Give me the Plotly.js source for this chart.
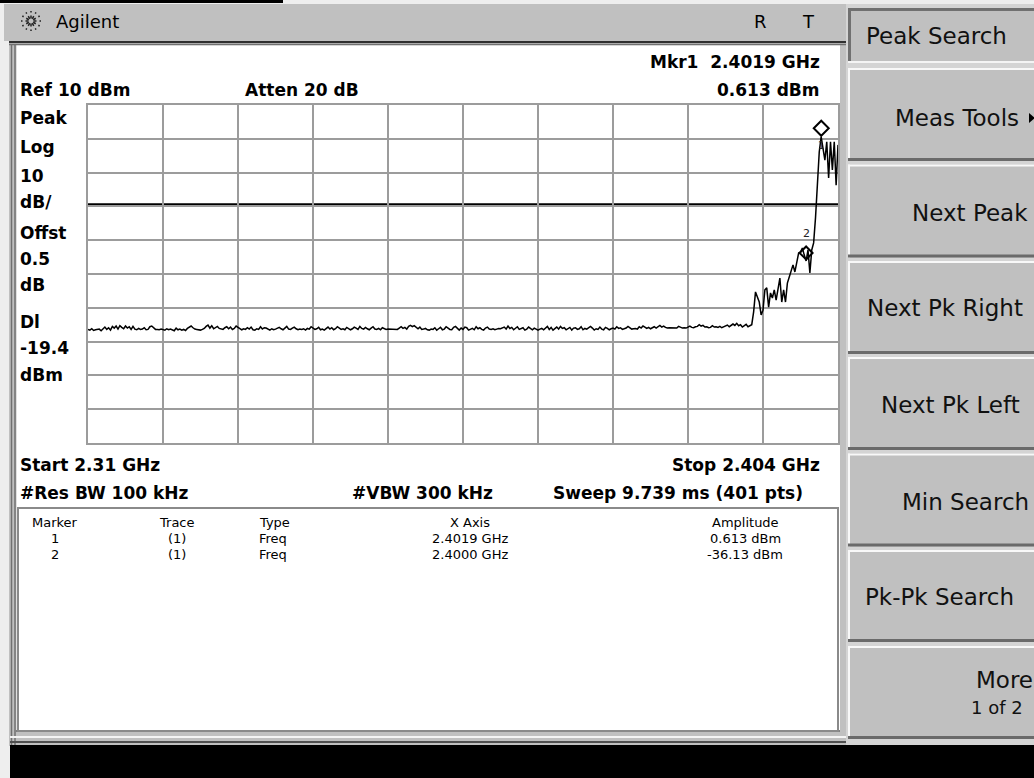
<!DOCTYPE html>
<html><head><meta charset="utf-8">
<script src="https://cdn.plot.ly/plotly-3.0.1.min.js"></script>
<style>html,body{margin:0;padding:0;background:#eeeeee;overflow:hidden}#chart{width:1034px;height:778px}</style>
</head><body><div id="chart"></div>
<script>
// ---- sweep settings ----
const startGHz = 2.31;
const stopGHz = 2.404;
const sweepPoints = 401;
const refLevel = 10;
const dbPerDiv = 10;
const displayLine = -19.4;

// ---- trace amplitudes (dBm) ----
const noiseFloor = [
-56.4,-56.6,-56.2,-56.7,-56.5,-56.5,-56.3,-56.8,-56.1,-55.7,-56.4,-55.9,-56.6,-55.5,-56.0,-55.4,-56.3,-55.3,-55.8,-56.2,
-55.4,-56.0,-55.6,-56.4,-55.5,-56.3,-56.5,-56.1,-56.4,-56.3,-55.9,-56.5,-56.4,-55.6,-55.4,-56.0,-56.4,-56.4,-56.5,-56.3,
-56.4,-56.6,-56.2,-56.5,-56.3,-56.6,-56.8,-56.0,-56.5,-56.3,-56.6,-56.4,-56.7,-56.1,-55.8,-55.4,-55.9,-56.3,-56.4,-56.5,
-56.6,-56.4,-56.1,-55.5,-55.1,-56.0,-55.3,-56.2,-55.8,-55.5,-56.1,-56.3,-56.4,-55.9,-55.6,-56.2,-55.7,-56.4,-56.1,-55.4,
-55.8,-56.3,-56.5,-56.2,-56.4,-55.9,-56.3,-55.7,-56.5,-56.6,-56.2,-56.4,-55.6,-56.3,-55.9,-56.0,-56.4,-56.6,-56.2,-56.5,
-56.3,-56.1,-55.8,-56.2,-56.5,-56.0,-55.5,-56.3,-56.4,-56.0,-55.7,-56.2,-56.5,-56.3,-56.4,-56.2,-56.6,-56.1,-56.3,-55.6,
-56.0,-56.4,-56.2,-55.8,-56.5,-56.3,-56.6,-56.1,-55.7,-56.3,-55.9,-56.5,-56.2,-55.6,-56.0,-56.4,-56.2,-56.5,-55.8,-56.3,
-56.5,-56.2,-55.7,-56.0,-56.4,-55.5,-56.1,-56.3,-55.8,-56.2,-56.5,-56.0,-55.6,-56.3,-56.4,-56.1,-56.5,-55.9,-56.2,-56.4,
-56.3,-56.3,-56.4,-56.3,-56.2,-56.4,-56.0,-55.6,-56.1,-55.8,-56.3,-55.5,-55.2,-55.6,-55.3,-55.9,-56.2,-55.7,-56.4,-56.3,
-56.1,-56.5,-56.6,-56.3,-56.4,-55.9,-56.6,-56.2,-55.8,-56.5,-56.3,-55.6,-56.0,-56.4,-56.5,-55.8,-55.5,-56.2,-56.6,-56.0,
-56.4,-55.7,-55.9,-56.6,-56.3,-56.1,-56.5,-55.6,-56.2,-55.9,-56.4,-56.6,-56.0,-55.7,-56.3,-56.4,-56.2,-56.5,-56.3,-56.1,
-56.2,-55.9,-55.7,-56.3,-55.4,-56.1,-55.8,-56.5,-56.0,-55.6,-56.4,-56.2,-55.9,-56.6,-56.3,-55.7,-56.1,-56.5,-56.0,-56.4,
-56.6,-56.3,-56.1,-56.5,-56.0,-55.5,-56.4,-55.8,-56.6,-56.2,-55.7,-56.3,-55.5,-56.1,-55.9,-56.5,-56.2,-55.8,-56.6,-56.0,
-55.9,-56.4,-56.2,-55.6,-56.5,-56.1,-56.3,-55.8,-55.5,-56.0,-56.6,-56.2,-56.4,-55.7,-56.3,-56.5,-55.8,-56.1,-56.5,-56.2,
-56.0,-56.3,-55.6,-56.1,-55.9,-56.4,-56.2,-56.0,-55.5,-55.8,-56.3,-56.2,-56.1,-56.3,-55.6,-56.0,-55.4,-55.7,-56.1,-55.8,
-56.2,-55.9,-55.6,-56.0,-55.5,-55.2,-55.7,-55.4,-55.8,-56.0,-55.9,-55.9,-56.0,-55.9,-56.0,-55.5,-55.8,-56.0,-55.9,-56.0,
-55.7,-55.4,-55.8,-55.9,-55.6,-55.5,-55.0,-55.4,-55.2,-55.7,-55.6,-55.9,-55.8,-55.3,-55.7,-55.6,-55.8,-55.5,-55.9,-55.6,
-55.4,-55.1,-55.6,-55.3,-54.8,-55.2,-54.6,-55.3,-55.0,-55.7,-55.4,-54.9,-55.6,-55.2,-55.0
];
const riseSegment = [
-51.2,-45.3,-46.8,-48.3,-52.1,-50.7,-44.7,-44.1,-49.8,-45.6,
-47.1,-44.7,-47.7,-43.8,-41.2,-48.3,-44.7,-48.3,-42.7,-40.9,
-38.8,-37.3,-39.4,-36.4,-33.8,-33.5,-32.3,-34.4,-36.13,-32.9,
-39.7,-32.9,-30.8,-23.4,-11.3,-3.9,0.613,-3.3,-6.3,-0.9,
-11.6,-0.9,-9.2,-0.9,-13.7,-1.8
];

// ---- markers ----
const markerIds = ['1', '2'];
const markerTraces = ['(1)', '(1)'];
const markerTypes = ['Freq', 'Freq'];
const markerFreqs = [2.4019, 2.4000];
const markerAmps = [0.613, -36.13];
const markerFreqText = ['2.4019 GHz', '2.4000 GHz'];
const markerAmpText = ['0.613 dBm', '-36.13 dBm'];

// ---- screen texts ----
const leftLabels = ['Peak', 'Log', '10', 'dB/', 'Offst', '0.5', 'dB', 'Dl', '-19.4', 'dBm'];
const tableHeaders = ['Marker', 'Trace', 'Type', 'X Axis', 'Amplitude'];
const softkeys = ['Peak Search', 'Meas Tools', 'Next Peak', 'Next Pk Right', 'Next Pk Left', 'Min Search', 'Pk-Pk Search', 'More'];

// ---- build trace ----
const step = (stopGHz - startGHz) / (sweepPoints - 1);
const xs = [], ys = [];
noiseFloor.forEach((v, i) => { xs.push(startGHz + i * step); ys.push(v); });
riseSegment.forEach((v, j) => { xs.push(stopGHz - (riseSegment.length - 1 - j) * step); ys.push(v); });

// ---- pixel helpers for screen furniture ----
const L = 88, R = 838, T = 105, B = 443;
const PX = p => (p - L) / (R - L);
const PY = p => (B - p) / (B - T);
const shapes = [];
const ann = [];
function rect(x0, y0, x1, y1, fill, lc, lw, layer) {
  shapes.push({type: 'rect', xref: 'paper', yref: 'paper', x0: PX(x0), x1: PX(x1), y0: PY(y0), y1: PY(y1),
    fillcolor: fill, line: {color: lc || 'rgba(0,0,0,0)', width: lw || 0}, layer: layer || 'below'});
}
function hline(x0, x1, y, c, w, layer) {
  shapes.push({type: 'line', xref: 'paper', yref: 'paper', x0: PX(x0), x1: PX(x1), y0: PY(y), y1: PY(y), line: {color: c, width: w}, layer: layer || 'below'});
}
function vline(x, y0, y1, c, w, layer) {
  shapes.push({type: 'line', xref: 'paper', yref: 'paper', x0: PX(x), x1: PX(x), y0: PY(y0), y1: PY(y1), line: {color: c, width: w}, layer: layer || 'below'});
}
const BOLD = {family: 'DejaVu Sans', size: 17, color: '#000', weight: 'bold'};
const KEY = {family: 'DejaVu Sans', size: 23, color: '#111'};
const TBL = {family: 'DejaVu Sans', size: 13, color: '#000'};
function txt(t, x, y, xa, font) {
  ann.push({text: t, xref: 'paper', yref: 'paper', x: PX(x), y: PY(y), xanchor: xa, yanchor: 'middle', showarrow: false, font: font});
}

// backgrounds / frame
rect(0, 0, 283, 3, '#000');
rect(4, 4, 846, 41, '#c0c0c0');
rect(9, 41, 848, 746, '#c0c0c0');
hline(9, 846, 42, '#303030', 2);
hline(9, 846, 44.5, '#707070', 1.5);
vline(11.5, 44, 745, '#707070', 1.5);
vline(15, 44, 745, '#707070', 1.5);
rect(16.5, 45.5, 840, 730, '#ffffff');
hline(16, 840, 731, '#808080', 2);
hline(10, 846, 737, '#f4f4f4', 2);
hline(10, 846, 742, '#505050', 2);
rect(846, 4, 1034, 745, '#d4d4d4');
rect(10, 745, 1034, 778, '#000000');
// marker table box
rect(18, 508, 838, 731, 'rgba(0,0,0,0)', '#8a8a8a', 2);

// softkeys
const keyTops = [8, 68, 164.5, 261, 357, 453.5, 550, 646];
const keyBots = [63, 161, 257.5, 354, 450, 546.5, 642, 739];
const keyTextY = [36, 118, 213, 308, 405, 502, 597, 680];
const keyTextX = [936, 957, 970, 945, 950, 965, 940, 1005];
for (let k = 0; k < softkeys.length; k++) {
  const y0 = keyTops[k], y1 = keyBots[k];
  rect(848, y0, 1036, y1, '#c0c0c0');
  if (k === 0) {
    hline(848, 1036, y0 + 1.5, '#707070', 3);
    vline(849.5, y0, y1, '#707070', 3);
    hline(848, 1036, y1 - 1, '#f4f4f4', 2);
  } else {
    hline(848, 1036, y0 + 1, '#f8f8f8', 2);
    vline(849, y0, y1, '#f8f8f8', 2);
    hline(848, 1036, y1 - 1.5, '#6a6a6a', 3);
  }
  txt(softkeys[k], keyTextX[k], keyTextY[k], 'center', KEY);
}
txt('1 of 2', 997, 707, 'center', {family: 'DejaVu Sans', size: 18, color: '#111'});
shapes.push({type: 'path', xref: 'paper', yref: 'paper',
  path: `M${PX(1029)},${PY(113)} L${PX(1035)},${PY(118)} L${PX(1029)},${PY(123)} Z`,
  fillcolor: '#000', line: {width: 0}, layer: 'above'});

// Agilent logo (spark)
for (let a = 0; a < 12; a++) {
  const th = a * Math.PI / 6;
  shapes.push({type: 'line', xref: 'paper', yref: 'paper',
    x0: PX(31 + 2.5 * Math.cos(th)), y0: PY(21 + 2.5 * Math.sin(th)),
    x1: PX(31 + 10 * Math.cos(th)), y1: PY(21 + 10 * Math.sin(th)),
    line: {color: '#222', width: 1.5, dash: 'dot'}, layer: 'above'});
}
txt('Agilent', 54, 22, 'left', {family: 'DejaVu Sans', size: 18, color: '#000'});
txt('R', 760, 22, 'center', {family: 'DejaVu Sans', size: 18, color: '#000'});
txt('T', 808, 22, 'center', {family: 'DejaVu Sans', size: 18, color: '#000'});

// instrument annotation text
txt('Mkr1  2.4019 GHz', 822, 62, 'right', BOLD);
txt('Ref 10 dBm', 18, 90, 'left', BOLD);
txt('Atten 20 dB', 243, 90, 'left', BOLD);
txt('0.613 dBm', 822, 90, 'right', BOLD);
const leftY = [118, 147, 176, 202, 233, 259, 285, 322, 348, 375];
leftLabels.forEach((t, i) => txt(t, 18, leftY[i], 'left', BOLD));
txt('Start 2.31 GHz', 18, 465, 'left', BOLD);
txt('Stop 2.404 GHz', 822, 465, 'right', BOLD);
txt('#Res BW 100 kHz', 18, 493, 'left', BOLD);
txt('#VBW 300 kHz', 350, 493, 'left', BOLD);
txt('Sweep 9.739 ms (401 pts)', 805, 493, 'right', BOLD);

// marker table
const colX = [55, 177, 257, 470, 745];
const colA = ['center', 'center', 'left', 'center', 'center'];
tableHeaders.forEach((t, i) => txt(t, colX[i], 522, colA[i], TBL));
for (let m = 0; m < markerIds.length; m++) {
  const y = 538 + m * 16;
  [markerIds[m], markerTraces[m], markerTypes[m], markerFreqText[m], markerAmpText[m]]
    .forEach((t, i) => txt(t, colX[i], y, colA[i], TBL));
}

// display line (data)
shapes.push({type: 'line', xref: 'paper', yref: 'y', x0: 0, x1: 1, y0: displayLine, y1: displayLine,
  line: {color: '#000', width: 2}, layer: 'between'});

// marker diamonds (anchored at marker data, drawn just above the point)
const dSize = [7.5, 6.5];
const dLift = [8.5, 8];
markerIds.forEach((id, k) => {
  const s = dSize[k], c = dLift[k];
  shapes.push({type: 'path', xref: 'x', yref: 'y', xsizemode: 'pixel', ysizemode: 'pixel',
    xanchor: markerFreqs[k], yanchor: markerAmps[k],
    path: `M0,${c - s} L${s},${c} L0,${c + s} L${-s},${c} Z`,
    line: {color: '#000', width: 2}, fillcolor: 'rgba(0,0,0,0)', layer: 'above'});
});
ann.push({text: markerIds[0], x: markerFreqs[0], y: markerAmps[0], xref: 'x', yref: 'y', showarrow: false, yshift: -9,
  font: {family: 'DejaVu Sans', size: 10, color: '#222'}});
ann.push({text: markerIds[1], x: markerFreqs[1], y: markerAmps[1], xref: 'x', yref: 'y', showarrow: false, yshift: 27,
  font: {family: 'DejaVu Sans', size: 11, color: '#222'}});

const trace = {x: xs, y: ys, type: 'scatter', mode: 'lines', line: {color: '#000', width: 1.5}, hoverinfo: 'skip', showlegend: false};

const gridColor = '#9c9c9c';
const layout = {
  width: 1034, height: 778,
  margin: {l: L, r: 1034 - R, t: T, b: 778 - B, pad: 0},
  paper_bgcolor: '#eeeeee', plot_bgcolor: 'rgba(0,0,0,0)',
  showlegend: false,
  xaxis: {range: [startGHz, stopGHz], tickmode: 'linear', tick0: startGHz, dtick: (stopGHz - startGHz) / 10,
    showgrid: true, gridcolor: gridColor, gridwidth: 2, showticklabels: false, ticks: '', zeroline: false,
    showline: true, mirror: true, linecolor: gridColor, linewidth: 2, fixedrange: true},
  yaxis: {range: [refLevel - 10 * dbPerDiv, refLevel], tickmode: 'linear', tick0: refLevel, dtick: dbPerDiv,
    showgrid: true, gridcolor: gridColor, gridwidth: 2, showticklabels: false, ticks: '', zeroline: false,
    showline: true, mirror: true, linecolor: gridColor, linewidth: 2, fixedrange: true},
  shapes: shapes,
  annotations: ann
};
Plotly.newPlot('chart', [trace], layout, {staticPlot: true, displayModeBar: false});
</script>
</body></html>
